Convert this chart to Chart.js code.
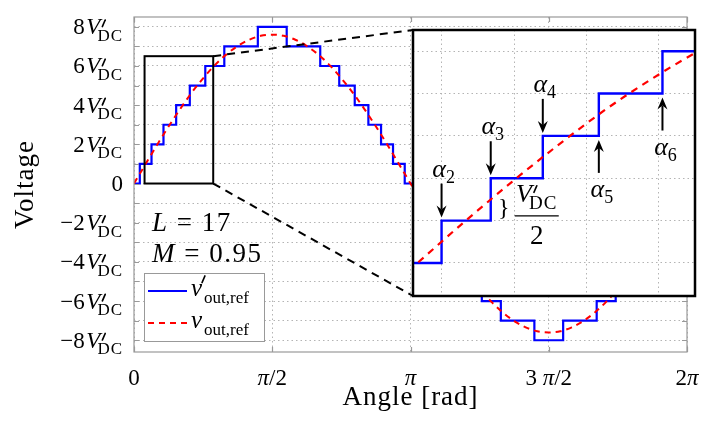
<!DOCTYPE html>
<html>
<head>
<meta charset="utf-8">
<script src="https://cdn.jsdelivr.net/npm/chart.js@4.4.1/dist/chart.umd.min.js"></script>
<style>
    html, body { margin: 0; padding: 0; background: #fff; }
    #wrap { position: relative; width: 713px; height: 431px; }
    #main { position: absolute; left: 0; top: 0; }
    #inset { position: absolute; left: 411px; top: 28px; }
</style>
</head>
<body>
<div id="wrap">
    <canvas id="main" width="713" height="431"></canvas>
    <canvas id="inset" width="286" height="270"></canvas>
</div>
<script>
const PI = Math.PI;

// staircase output: switching angles [rad] and the level (in V'DC) after each switch
const stepAngles = [0, 0.066, 0.199, 0.335, 0.479, 0.634, 0.810, 1.026, 1.407,
    1.735, 2.116, 2.332, 2.508, 2.663, 2.807, 2.943, 3.076,
    3.208, 3.341, 3.477, 3.621, 3.776, 3.952, 4.168, 4.549,
    4.876, 5.257, 5.473, 5.649, 5.804, 5.948, 6.084, 6.217, 6.283];
const stepLevels = [0, 1, 2, 3, 4, 5, 6, 7, 8,
    7, 6, 5, 4, 3, 2, 1, 0,
    -1, -2, -3, -4, -5, -6, -7, -8,
    -7, -6, -5, -4, -3, -2, -1, 0, 0];

// reference (M = 0.95), sampled along the angle axis
const refAngles = [0, 0.131, 0.262, 0.393, 0.524, 0.654, 0.785, 0.916, 1.047, 1.178, 1.309, 1.440,
    1.571, 1.702, 1.833, 1.963, 2.094, 2.225, 2.356, 2.487, 2.618, 2.749, 2.880, 3.011,
    3.142, 3.272, 3.403, 3.534, 3.665, 3.796, 3.927, 4.058, 4.189, 4.320, 4.451, 4.581,
    4.712, 4.843, 4.974, 5.105, 5.236, 5.367, 5.498, 5.629, 5.760, 5.890, 6.021, 6.152, 6.283];
const refValues = [0, 0.99, 1.97, 2.91, 3.80, 4.63, 5.37, 6.03, 6.58, 7.02, 7.34, 7.54,
    7.60, 7.54, 7.34, 7.02, 6.58, 6.03, 5.37, 4.63, 3.80, 2.91, 1.97, 0.99,
    0, -0.99, -1.97, -2.91, -3.80, -4.63, -5.37, -6.03, -6.58, -7.02, -7.34, -7.54,
    -7.60, -7.54, -7.34, -7.02, -6.58, -6.03, -5.37, -4.63, -3.80, -2.91, -1.97, -0.99, 0];

// axes
const xTicks = [0, PI / 2, PI, 3 * PI / 2, 2 * PI];
const xTickLabels = [['0'], ['π', '/2'], ['π'], ['3 ', 'π', '/2'], ['2', 'π']];
const yGrid = [-8, -7, -6, -5, -4, -3, -2, -1, 0, 1, 2, 3, 4, 5, 6, 7, 8];
const yTickLabels = ['−8', '−6', '−4', '−2', '0', '2', '4', '6', '8'];
const yTickValues = [-8, -6, -4, -2, 0, 2, 4, 6, 8];

// zoomed window
const zoomX = [0.12, 0.9];
const zoomY = [0, 6.5];
const insetYRange = [0.22, 6.5];
const insetXGrid = [0.2, 0.4, 0.6, 0.8];
const insetYGrid = [1, 2, 3, 4, 5, 6];
const alphaIdx = [2, 3, 4, 5, 6];
const alphaUp = [false, false, false, true, true];

const INSET = { left: 413, top: 30, right: 695, bottom: 296 };
const SERIF = '"Liberation Serif", "DejaVu Serif", serif';
const font = (size, italic) => (italic ? 'italic ' : '') + size + 'px ' + SERIF;

const stairData = stepAngles.map((a, i) => ({ x: a, y: stepLevels[i] }));
const refData = refAngles.map((a, i) => ({ x: a, y: refValues[i] }));

function drawParts(ctx, parts, x, y, align, spacing) {
    ctx.letterSpacing = (spacing || 0) + 'px';
    let total = 0;
    const ws = parts.map(p => {
        ctx.font = p.font;
        const w = ctx.measureText(p.t).width + (p.dx || 0);
        total += w;
        return w;
    });
    let cx = align === 'right' ? x - total : (align === 'center' ? x - total / 2 : x);
    ctx.textAlign = 'left';
    ctx.textBaseline = 'alphabetic';
    parts.forEach((p, i) => {
        ctx.font = p.font;
        ctx.fillText(p.t, cx + (p.dx || 0), y + (p.dy || 0));
        cx += ws[i];
    });
    ctx.letterSpacing = '0px';
    return cx;
}

function prime(ctx, x, b, h) {
    ctx.save();
    ctx.lineWidth = 1.7;
    ctx.lineCap = 'round';
    ctx.beginPath();
    ctx.moveTo(x + 2.8, b - h);
    ctx.lineTo(x, b - h + 6.5);
    ctx.stroke();
    ctx.restore();
}

// "<num>V'_DC" label, x is the anchor, b the baseline
function drawVdc(ctx, num, x, b, s, align) {
    const ss = Math.round(s * 0.74);
    ctx.letterSpacing = '1px';
    ctx.font = font(ss);
    const wdc = ctx.measureText('DC').width;
    ctx.letterSpacing = '0px';
    ctx.font = font(s, true);
    const wv = ctx.measureText('V').width;
    ctx.font = font(s);
    const wn = num ? ctx.measureText(num).width + 1.5 : 0;
    const vX = wn, dcX = vX + wv - 3, total = dcX + wdc;
    const x0 = align === 'right' ? x - total : (align === 'center' ? x - total / 2 : x);
    ctx.textAlign = 'left';
    ctx.textBaseline = 'alphabetic';
    if (num) { ctx.font = font(s); ctx.fillText(num, x0, b); }
    ctx.font = font(s, true);
    ctx.fillText('V', x0 + vX, b);
    ctx.letterSpacing = '1px';
    ctx.font = font(ss);
    ctx.fillText('DC', x0 + dcX, b + s * 0.28);
    ctx.letterSpacing = '0px';
    prime(ctx, x0 + vX + wv + 2, b, s * 0.62);
}

function arrow(ctx, x, tail, tip) {
    const d = Math.sign(tip - tail);
    ctx.beginPath();
    ctx.moveTo(x, tail);
    ctx.lineTo(x, tip - d * 8);
    ctx.stroke();
    ctx.beginPath();
    ctx.moveTo(x, tip);
    ctx.lineTo(x - 5, tip - d * 12);
    ctx.lineTo(x, tip - d * 8);
    ctx.lineTo(x + 5, tip - d * 12);
    ctx.closePath();
    ctx.fill();
}

const mainDecor = {
    id: 'mainDecor',
    afterDatasetsDraw(chart) {
        const { ctx, chartArea: a, scales: { x, y } } = chart;
        ctx.save();
        // frame and inner ticks
        ctx.strokeStyle = '#999';
        ctx.lineWidth = 1.2;
        ctx.strokeRect(a.left, a.top, a.right - a.left, a.bottom - a.top);
        ctx.beginPath();
        yGrid.forEach(v => {
            const py = Math.round(y.getPixelForValue(v)) + 0.5;
            ctx.moveTo(a.left, py); ctx.lineTo(a.left + 5, py);
            ctx.moveTo(a.right, py); ctx.lineTo(a.right - 5, py);
        });
        xTicks.forEach(v => {
            const px = Math.round(x.getPixelForValue(v)) + 0.5;
            ctx.moveTo(px, a.top); ctx.lineTo(px, a.top + 5);
            ctx.moveTo(px, a.bottom); ctx.lineTo(px, a.bottom - 5);
        });
        ctx.stroke();

        // zoom rectangle and connectors
        const x0 = x.getPixelForValue(zoomX[0]), x1 = x.getPixelForValue(zoomX[1]);
        const y0 = y.getPixelForValue(zoomY[0]), y1 = y.getPixelForValue(zoomY[1]);
        ctx.strokeStyle = '#000';
        ctx.lineWidth = 2;
        ctx.strokeRect(x0, y1, x1 - x0, y0 - y1);
        ctx.setLineDash([8, 6]);
        ctx.beginPath();
        ctx.moveTo(x1, y1); ctx.lineTo(INSET.left, INSET.top);
        ctx.moveTo(x1, y0); ctx.lineTo(INSET.left, INSET.bottom);
        ctx.stroke();
        ctx.restore();
    },
    afterDraw(chart) {
        const { ctx, chartArea: a, scales: { x, y } } = chart;
        ctx.save();
        ctx.fillStyle = '#000';
        ctx.strokeStyle = '#000';
        // y tick labels
        yTickValues.forEach((v, i) => {
            const b = y.getPixelForValue(v) + 7.5;
            if (v === 0) drawParts(ctx, [{ t: '0', font: font(23) }], 123, b, 'right');
            else drawVdc(ctx, yTickLabels[i], 123, b, 23, 'right');
        });
        // x tick labels
        xTicks.forEach((v, i) => {
            const parts = xTickLabels[i].map(t => ({ t: t, font: font(23, t === 'π') }));
            drawParts(ctx, parts, x.getPixelForValue(v), 385, 'center');
        });
        // axis titles
        drawParts(ctx, [{ t: 'Angle [rad]', font: font(27) }], (a.left + a.right) / 2, 405, 'center', 1);
        ctx.save();
        ctx.translate(33, (a.top + a.bottom) / 2);
        ctx.rotate(-PI / 2);
        drawParts(ctx, [{ t: 'Voltage', font: font(27) }], 0, 0, 'center', 1);
        ctx.restore();

        // parameters
        drawParts(ctx, [{ t: 'L', font: font(27, true) }, { t: ' = 17', font: font(27) }], 152, 231, 'left', 1.5);
        drawParts(ctx, [{ t: 'M', font: font(27, true) }, { t: ' = 0.95', font: font(27) }], 152, 262, 'left', 1.5);

        // legend
        ctx.fillStyle = '#fff';
        ctx.fillRect(144, 273, 120, 68);
        ctx.strokeStyle = '#999';
        ctx.lineWidth = 1;
        ctx.strokeRect(144.5, 273.5, 120, 68);
        ctx.lineWidth = 2;
        ctx.strokeStyle = '#0000ff';
        ctx.beginPath(); ctx.moveTo(148, 291); ctx.lineTo(187, 291); ctx.stroke();
        ctx.strokeStyle = '#ff0000';
        ctx.setLineDash([6, 5]);
        ctx.beginPath(); ctx.moveTo(148, 323); ctx.lineTo(187, 323); ctx.stroke();
        ctx.setLineDash([]);
        ctx.fillStyle = '#000';
        ctx.strokeStyle = '#000';
        const vEnd = drawParts(ctx, [{ t: 'v', font: font(25, true) }], 191, 296, 'left');
        prime(ctx, vEnd, 296, 20);
        drawParts(ctx, [{ t: 'out,ref', font: font(17) }], vEnd + 2, 303, 'left');
        const vEnd2 = drawParts(ctx, [{ t: 'v', font: font(25, true) }], 191, 328, 'left');
        drawParts(ctx, [{ t: 'out,ref', font: font(17) }], vEnd2 + 2, 335, 'left');
        ctx.restore();
    }
};

const insetDecor = {
    id: 'insetDecor',
    beforeDraw(chart) {
        const { ctx, chartArea: a } = chart;
        ctx.save();
        ctx.fillStyle = '#fff';
        ctx.fillRect(a.left, a.top, a.right - a.left, a.bottom - a.top);
        ctx.restore();
    },
    afterDraw(chart) {
        const { ctx, chartArea: a, scales: { x, y } } = chart;
        ctx.save();
        ctx.strokeStyle = '#000';
        ctx.fillStyle = '#000';
        ctx.lineWidth = 2.5;
        ctx.strokeRect(a.left, a.top, a.right - a.left, a.bottom - a.top);

        // switching-angle arrows
        ctx.lineWidth = 2;
        alphaIdx.forEach((k, i) => {
            const px = x.getPixelForValue(stepAngles[k]);
            const parts = [{ t: 'α', font: font(26, true) }, { t: String(k), font: font(18), dy: 6 }];
            if (!alphaUp[i]) {
                const py = y.getPixelForValue(stepLevels[k]);
                arrow(ctx, px, py - 37, py - 3);
                drawParts(ctx, parts, px + 2, py - 44, 'center');
            } else {
                const py = y.getPixelForValue(stepLevels[k - 1]);
                arrow(ctx, px, py + 37, py + 4);
                drawParts(ctx, parts, px + 3, py + 61, 'center');
            }
        });

        // half-step annotation
        const bx = x.getPixelForValue(0.371), by = y.getPixelForValue(2.3);
        drawParts(ctx, [{ t: '}', font: font(24) }], bx, by + 7, 'center');
        const fx = bx + 33;
        drawVdc(ctx, '', fx, by - 6, 26, 'center');
        ctx.lineWidth = 1.2;
        ctx.beginPath(); ctx.moveTo(fx - 22, by + 8); ctx.lineTo(fx + 22, by + 8); ctx.stroke();
        drawParts(ctx, [{ t: '2', font: font(27) }], fx, by + 36, 'center');
        ctx.restore();
    }
};

const gridOpts = { color: '#b4b4b4', lineWidth: 1, drawTicks: false };
const borderOpts = { display: false, dash: [1.5, 3] };

new Chart(document.getElementById('main'), {
    type: 'line',
    data: {
        datasets: [
            { data: stairData, borderColor: '#0000ff', borderWidth: 2.2, stepped: 'before', pointRadius: 0, order: 2 },
            { data: refData, borderColor: '#ff0000', borderWidth: 2, borderDash: [6, 5], pointRadius: 0,
              cubicInterpolationMode: 'monotone', order: 1 }
        ]
    },
    options: {
        responsive: false,
        animation: false,
        devicePixelRatio: 1,
        layout: { padding: { left: 134, right: 26, top: 17, bottom: 79 } },
        plugins: { legend: { display: false }, tooltip: { enabled: false } },
        scales: {
            x: {
                type: 'linear', min: 0, max: 2 * PI,
                afterBuildTicks: s => { s.ticks = xTicks.map(v => ({ value: v })); },
                ticks: { display: false }, grid: gridOpts, border: borderOpts
            },
            y: {
                type: 'linear', min: -8.6, max: 8.5,
                afterBuildTicks: s => { s.ticks = yGrid.map(v => ({ value: v })); },
                ticks: { display: false }, grid: gridOpts, border: borderOpts
            }
        }
    },
    plugins: [mainDecor]
});

new Chart(document.getElementById('inset'), {
    type: 'line',
    data: {
        datasets: [
            { data: stairData, borderColor: '#0000ff', borderWidth: 2.4, stepped: 'before', pointRadius: 0, order: 2 },
            { data: refData, borderColor: '#ff0000', borderWidth: 2.2, borderDash: [7, 6], pointRadius: 0,
              cubicInterpolationMode: 'monotone', order: 1 }
        ]
    },
    options: {
        responsive: false,
        animation: false,
        devicePixelRatio: 1,
        layout: { padding: 2 },
        plugins: { legend: { display: false }, tooltip: { enabled: false } },
        scales: {
            x: {
                type: 'linear', min: zoomX[0], max: zoomX[1],
                afterBuildTicks: s => { s.ticks = insetXGrid.map(v => ({ value: v })); },
                ticks: { display: false }, grid: gridOpts, border: borderOpts
            },
            y: {
                type: 'linear', min: insetYRange[0], max: insetYRange[1],
                afterBuildTicks: s => { s.ticks = insetYGrid.map(v => ({ value: v })); },
                ticks: { display: false }, grid: gridOpts, border: borderOpts
            }
        }
    },
    plugins: [insetDecor]
});
</script>
</body>
</html>
